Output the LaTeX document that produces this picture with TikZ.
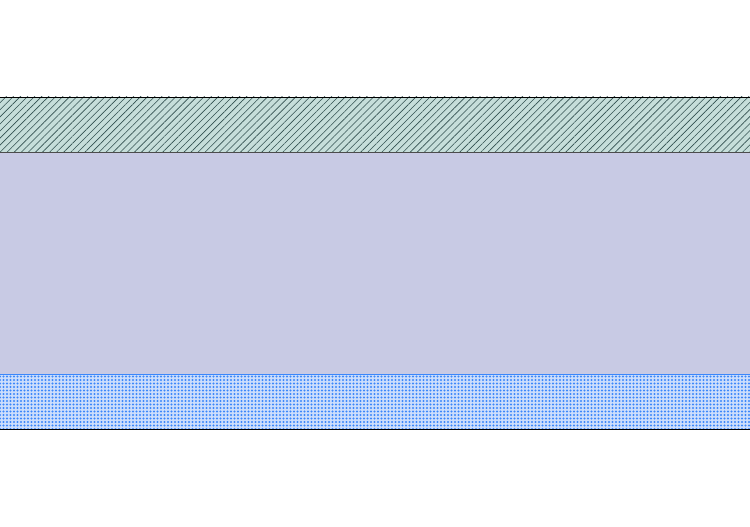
\documentclass[tikz,border=0pt]{standalone}
\usetikzlibrary{patterns,patterns.meta}

\definecolor{capfill}{RGB}{198,222,218}
\definecolor{capline}{RGB}{50,80,80}
\definecolor{corefill}{RGB}{200,202,228}
\definecolor{basefill}{RGB}{205,222,252}
\definecolor{basedots}{RGB}{60,135,250}

\begin{document}
\begin{tikzpicture}[x=1pt,y=-1pt,
				caplayer/.style={pattern={Lines[angle=45, distance=5pt, line width=0.6pt]}, pattern color=capline},
				corelayer/.style={fill=corefill},
				baselayer/.style={pattern={Dots[distance=3.5pt, radius=1.1pt]}, pattern color=basedots}
			]

			\useasboundingbox (0,0) rectangle (750,527);

			% layers from top to bottom
			\fill[capfill] (0,97) rectangle (750,152);
			\fill[caplayer] (0,97) rectangle (750,152);
			\fill[corelayer] (0,152) rectangle (750,374);
			\fill[basefill] (0,374) rectangle (750,429);
			\fill[baselayer] (0,374) rectangle (750,429);

			\draw[black, line width=0.8pt] (0,97) -- (750,97);
			\draw[black!70, line width=0.5pt] (0,152) -- (750,152);
			\draw[basedots, line width=0.4pt] (0,374) -- (750,374);
			\draw[black, line width=0.8pt] (0,429) -- (750,429);

		\end{tikzpicture}
\end{document}
